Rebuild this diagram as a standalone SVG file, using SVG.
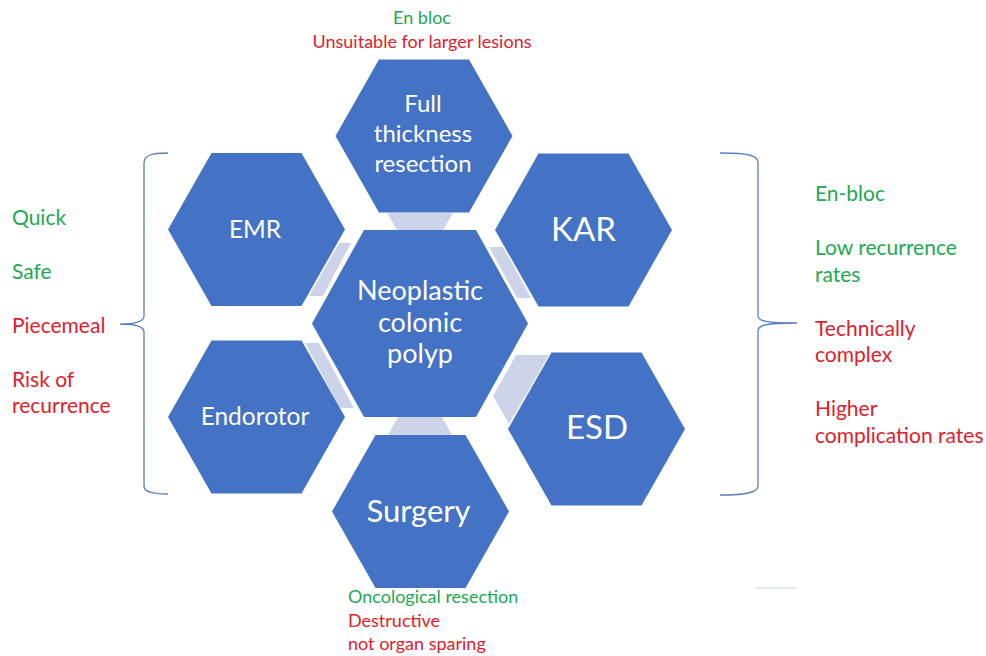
<svg xmlns="http://www.w3.org/2000/svg" width="986" height="656" viewBox="0 0 986 656">
<style>
.hex{fill:#4472c4}
.con{fill:#cdd4ea}
.lbl{fill:#ffffff;font-family:Lato,"Liberation Sans",sans-serif;text-anchor:middle}
.note{font-family:Lato,"Liberation Sans",sans-serif;font-size:18px}
.side{font-size:21px}
.g{fill:#22a94f}
.r{fill:#e0202a}
.brace{fill:none;stroke:#5a7fc0;stroke-width:1.3}
</style>
<rect width="986" height="656" fill="#ffffff"/>
<g id="connectors">
<polygon class="con" points="387,213 453,213 443,230 397,230"/>
<polygon class="con" points="398,417 442,417 452,435 388,435"/>
<polygon class="con" points="339,243 351,243 323,296 309,296"/>
<polygon class="con" points="305,343 319,343 354,408 340,408"/>
<polygon class="con" points="489,247 503,247 531,298 517,298"/>
<polygon class="con" points="516,355 549,355 509,424 493,396"/>
</g>
<g id="center">
<polygon class="hex" points="312,323.5 364,230 476,230 528,323.5 476,417 364,417"/>
<text class="lbl" font-size="27" x="420" y="300">Neoplastic</text>
<text class="lbl" font-size="27" x="420" y="331.5">colonic</text>
<text class="lbl" font-size="27" x="420" y="363">polyp</text>
</g>
<g id="full-thickness">
<polygon class="hex" points="335.5,136 379,59.5 469,59.5 512.5,136 469,212.5 379,212.5"/>
<text class="lbl" font-size="24" x="423" y="112">Full</text>
<text class="lbl" font-size="24" x="423" y="142">thickness</text>
<text class="lbl" font-size="24" x="423" y="172">resection</text>
</g>
<g id="emr">
<polygon class="hex" points="168,229.5 211.5,153 301.5,153 345,229.5 301.5,306 211.5,306"/>
<text class="lbl" font-size="24.5" x="255" y="238">EMR</text>
</g>
<g id="kar">
<polygon class="hex" points="495,230 538.5,153.5 628.5,153.5 672,230 628.5,306.5 538.5,306.5"/>
<text class="lbl" font-size="33" x="583.5" y="241">KAR</text>
</g>
<g id="endorotor">
<polygon class="hex" points="168,417 211.5,340.5 301.5,340.5 345,417 301.5,493.5 211.5,493.5"/>
<text class="lbl" font-size="24.5" x="255" y="425">Endorotor</text>
</g>
<g id="esd">
<polygon class="hex" points="508,429 551.5,352.5 641.5,352.5 685,429 641.5,505.5 551.5,505.5"/>
<text class="lbl" font-size="33" x="597" y="439">ESD</text>
</g>
<g id="surgery">
<polygon class="hex" points="332,511.5 375.5,435 465.5,435 509,511.5 465.5,588 375.5,588"/>
<text class="lbl" font-size="31" x="418.5" y="522">Surgery</text>
</g>
<g id="top-notes" class="note" text-anchor="middle">
<text class="g" x="422" y="24">En bloc</text>
<text class="r" x="422" y="48">Unsuitable for larger lesions</text>
</g>
<g id="left-notes" class="note side">
<path class="brace" d="M168,153 C152,153 144,155 144,163 L144,316 C144,321 138,324 120,324 C138,324 144,327 144,332 L144,486 C144,492 152,494 168,494"/>
<text class="g" x="12" y="225">Quick</text>
<text class="g" x="12" y="279">Safe</text>
<text class="r" x="12" y="333">Piecemeal</text>
<text class="r" x="12" y="387">Risk of</text>
<text class="r" x="12" y="413">recurrence</text>
</g>
<g id="right-notes" class="note side">
<path class="brace" d="M720,153 C748,153 758,155 758,163 L758,316 C758,321 766,323 797,323 C766,323 758,325 758,331 L758,486 C758,492 748,495 720,495"/>
<text class="g" x="815" y="201">En-bloc</text>
<text class="g" x="815" y="255">Low recurrence</text>
<text class="g" x="815" y="282">rates</text>
<text class="r" x="815" y="336">Technically</text>
<text class="r" x="815" y="362">complex</text>
<text class="r" x="815" y="416">Higher</text>
<text class="r" x="815" y="443">complication rates</text>
</g>
<g id="bottom-notes" class="note">
<text class="g" x="348" y="603">Oncological resection</text>
<text class="r" x="348" y="627">Destructive</text>
<text class="r" x="348" y="650">not organ sparing</text>
</g>
<line x1="755" y1="588" x2="797" y2="588" stroke="#c9d3e6" stroke-width="1"/>
</svg>
